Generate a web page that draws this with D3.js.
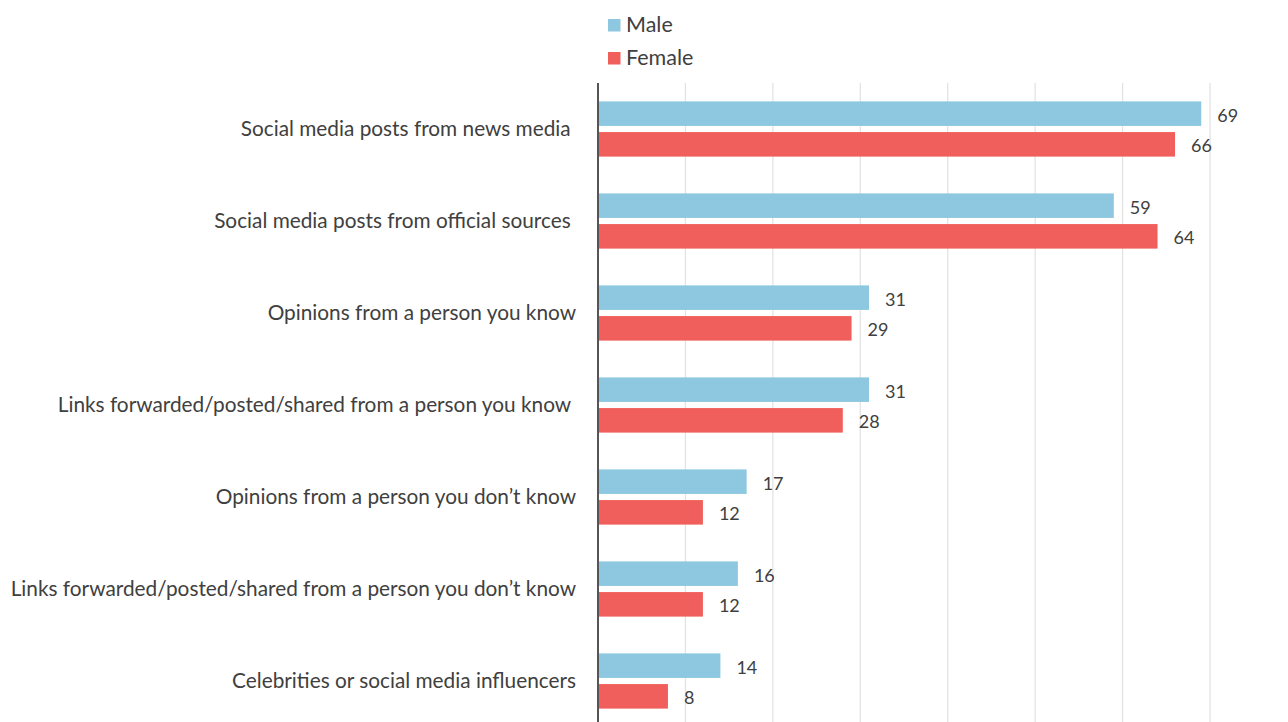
<!DOCTYPE html>
<html>
<head>
<meta charset="utf-8">
<script src="https://cdn.jsdelivr.net/npm/d3@7"></script>
<style>
  html, body { margin: 0; padding: 0; background: #fff; }
  svg { display: block; }
  text { font-family: Lato, "Open Sans", sans-serif; fill: #404040; }
  .cat { white-space: pre; }
</style>
</head>
<body>
<svg id="chart" width="1288" height="722"></svg>
<script>
// Sources of information, share (%) by gender
const categories = [
  "Social media posts from news media ",
  "Social media posts from official sources ",
  "Opinions from a person you know",
  "Links forwarded/posted/shared from a person you know ",
  "Opinions from a person you don\u2019t know",
  "Links forwarded/posted/shared from a person you don\u2019t know",
  "Celebrities or social media influencers"
];
const seriesNames = ["Male", "Female"];
const maleValues = [69, 59, 31, 31, 17, 16, 14];
const femaleValues = [66, 64, 29, 28, 12, 12, 8];
const gridTicks = [10, 20, 30, 40, 50, 60, 70];

const colors = { Male: "#8DC8E0", Female: "#F05F5B" };

const svg = d3.select("#chart");
const margin = { left: 598, top: 83 };
const plotBottom = 727;

const x = d3.scaleLinear().domain([0, 70]).range([margin.left, 1210]);
const y = d3.scaleBand().domain(categories).range([margin.top, plotBottom]).paddingInner(0.4).paddingOuter(0.2);
const ySub = d3.scaleBand().domain(seriesNames).range([0, y.bandwidth()]).paddingInner(0.2);

// vertical gridlines
svg.append("g")
  .selectAll("line")
  .data(gridTicks)
  .join("line")
  .attr("x1", d => x(d)).attr("x2", d => x(d))
  .attr("y1", margin.top).attr("y2", 722)
  .attr("stroke", "#e3e3e3")
  .attr("stroke-width", 1.3);

const rows = categories.map((c, i) => ({ c, Male: maleValues[i], Female: femaleValues[i] }));

const groups = svg.append("g").selectAll("g")
  .data(rows)
  .join("g")
  .attr("transform", d => `translate(0,${y(d.c)})`);

groups.selectAll("rect")
  .data(d => seriesNames.map(s => ({ s, v: d[s] })))
  .join("rect")
  .attr("x", x(0))
  .attr("y", d => ySub(d.s))
  .attr("width", d => x(d.v) - x(0))
  .attr("height", ySub.bandwidth())
  .attr("fill", d => colors[d.s]);

groups.selectAll("text.val")
  .data(d => seriesNames.map(s => ({ s, v: d[s] })))
  .join("text")
  .attr("class", "val")
  .attr("x", d => x(d.v) + 16)
  .attr("y", d => ySub(d.s) + ySub.bandwidth() / 2)
  .attr("dy", "0.45em")
  .attr("font-size", 18)
  .text(d => d.v);

// category labels
svg.append("g").selectAll("text")
  .data(categories)
  .join("text")
  .attr("class", "cat")
  .attr("x", 576)
  .attr("y", d => y(d) + y.bandwidth() / 2)
  .attr("dy", "0.36em")
  .attr("text-anchor", "end")
  .attr("font-size", 20.8)
  .text(d => d);

// axis line
svg.append("line")
  .attr("x1", x(0)).attr("x2", x(0))
  .attr("y1", margin.top).attr("y2", 722)
  .attr("stroke", "#555")
  .attr("stroke-width", 2);

// legend
const legend = svg.append("g").selectAll("g")
  .data(seriesNames)
  .join("g")
  .attr("transform", (d, i) => `translate(608,${19 + i * 33})`);
legend.append("rect")
  .attr("width", 12.5).attr("height", 12.5)
  .attr("fill", d => colors[d]);
legend.append("text")
  .attr("x", 18)
  .attr("y", 12.5)
  .attr("font-size", 21.5)
  .text(d => d);
</script>
</body>
</html>
